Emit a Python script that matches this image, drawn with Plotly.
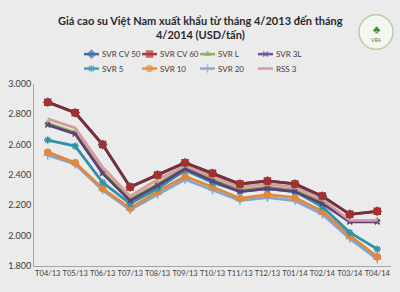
import plotly.graph_objects as go

months = ["T04/13", "T05/13", "T06/13", "T07/13", "T08/13", "T09/13", "T10/13",
          "T11/13", "T12/13", "T01/14", "T02/14", "T03/14", "T04/14"]

svr_cv50 = [2880, 2810, 2600, 2320, 2400, 2480, 2410, 2340, 2360, 2340, 2260, 2140, 2160]
svr_cv60 = [2880, 2810, 2600, 2320, 2400, 2480, 2410, 2340, 2360, 2340, 2260, 2140, 2160]
svr_l    = [2740, 2680, 2420, 2240, 2340, 2450, 2370, 2300, 2320, 2300, 2220, 2100, 2100]
svr_3l   = [2730, 2670, 2410, 2230, 2330, 2440, 2360, 2290, 2310, 2290, 2210, 2090, 2090]
svr_5    = [2630, 2590, 2350, 2210, 2310, 2430, 2350, 2290, 2310, 2290, 2190, 2020, 1910]
svr_10   = [2550, 2480, 2310, 2180, 2290, 2390, 2320, 2245, 2270, 2250, 2160, 2000, 1860]
svr_20   = [2530, 2470, 2300, 2170, 2270, 2370, 2300, 2230, 2250, 2230, 2140, 1980, 1845]
rss_3    = [2770, 2710, 2450, 2260, 2370, 2460, 2390, 2320, 2340, 2320, 2240, 2100, 2100]

# name, values, line colour, legend colour, marker symbol, marker size
series = [
    ("SVR CV 50", svr_cv50, "#3D5F93", "#3F6FB0", "diamond", 6),
    ("SVR CV 60", svr_cv60, "#7A2E38", "#B03A36", "square", 6),
    ("SVR L", svr_l, "#8FAE52", "#8FB255", "triangle-up", 5),
    ("SVR 3L", svr_3l, "#5C3F7C", "#7456A0", "x-thin-open", 5),
    ("SVR 5", svr_5, "#2F93A8", "#3BA3BC", "asterisk-open", 6),
    ("SVR 10", svr_10, "#E0883C", "#EE8E40", "circle", 6),
    ("SVR 20", svr_20, "#86A4CF", "#8DABD6", "cross-thin-open", 6),
    ("RSS 3", rss_3, "#D79C9C", "#D9999A", "circle", 0),
]

draw_order = ["SVR 20", "SVR 10", "SVR 5", "SVR L", "SVR 3L", "RSS 3", "SVR CV 50", "SVR CV 60"]

W, H = 400, 292
PL, PR, PT, PB = 34, 391, 81, 270  # plot area in pixels
FONT = "Lato, sans-serif"

fig = go.Figure()
for name in draw_order:
    n, vals, col, lcol, sym, msize = next(s for s in series if s[0] == name)
    mcol = "#A8302C" if name == "SVR CV 60" else col
    fig.add_trace(go.Scatter(
        x=months, y=vals, name=n, mode="lines+markers" if msize else "lines",
        line=dict(color=col, width=2.8),
        marker=dict(symbol=sym, size=msize, color=mcol, line=dict(color=mcol, width=1.5)),
        showlegend=False,
    ))

# Custom legend keys drawn in a full-figure pixel-space axis pair (x2/y2)
leg_cols = [84, 142, 200, 258]
leg_rows = [50, 65]
KEY = 15
annotations = []
for i, (n, vals, col, lcol, sym, msize) in enumerate(series):
    x0 = leg_cols[i % 4]
    y0 = leg_rows[i // 4]
    fig.add_trace(go.Scatter(
        x=[x0, x0 + KEY / 2, x0 + KEY], y=[y0, y0, y0], xaxis="x2", yaxis="y2",
        mode="lines+markers", line=dict(color=lcol, width=2.5),
        marker=dict(symbol=sym, size=[0, msize, 0], color=lcol, line=dict(color=lcol, width=1.5)),
        showlegend=False, hoverinfo="skip",
    ))
    annotations.append(dict(
        text=n, x=x0 + KEY + 1, y=y0, xref="x2", yref="y2", xanchor="left", yanchor="middle",
        showarrow=False, font=dict(family=FONT, size=8, color="#404040"),
    ))

annotations.append(dict(
    text="<b>Giá cao su Việt Nam xuất khẩu từ tháng 4/2013 đến tháng<br>4/2014 (USD/tấn)</b>",
    x=200, y=6, xref="x2", yref="y2", xanchor="center", yanchor="top", showarrow=False,
    font=dict(family=FONT, size=11, color="#2A2A2A"),
))
annotations.append(dict(text="VRA", x=376, y=35, xref="x2", yref="y2", showarrow=False,
                        font=dict(size=5, color="#4E7A3A")))
annotations.append(dict(text="♣", x=376, y=23, xref="x2", yref="y2", showarrow=False,
                        font=dict(size=11, color="#3E8A2E")))

bg = "#EBEBEB"
fig.update_layout(
    width=W, height=H,
    margin=dict(l=0, r=0, t=0, b=0),
    paper_bgcolor=bg, plot_bgcolor="rgba(0,0,0,0)",
    separators=",.",
    showlegend=False,
    font=dict(family=FONT, size=9, color="#404040"),
    xaxis=dict(
        domain=[PL / W, PR / W], anchor="y",
        type="category", range=[-0.5, 12.5], showline=True, linecolor="#A6A6A6",
        linewidth=1, ticks="", showgrid=False, zeroline=False,
        tickfont=dict(family=FONT, size=7.5, color="#404040"), tickangle=0,
    ),
    yaxis=dict(
        domain=[(H - PB) / H, (H - PT) / H], anchor="x",
        range=[1800, 3000], dtick=200, tickformat=",d", showline=True,
        linecolor="#A6A6A6", linewidth=1, showgrid=False, zeroline=False, ticks="",
        tickfont=dict(family=FONT, size=9, color="#404040"),
    ),
    xaxis2=dict(domain=[0, 1], anchor="y2", range=[0, W], visible=False, fixedrange=True),
    yaxis2=dict(domain=[0, 1], anchor="x2", range=[H, 0], visible=False, fixedrange=True),
    shapes=[
        dict(type="circle", xref="x2", yref="y2", x0=359, x1=393, y0=9, y1=45,
             line=dict(color="#B9CFA8", width=1.5), fillcolor="#F4F6F0", layer="below"),
    ],
    annotations=annotations,
)

fig.write_html("out.html")
